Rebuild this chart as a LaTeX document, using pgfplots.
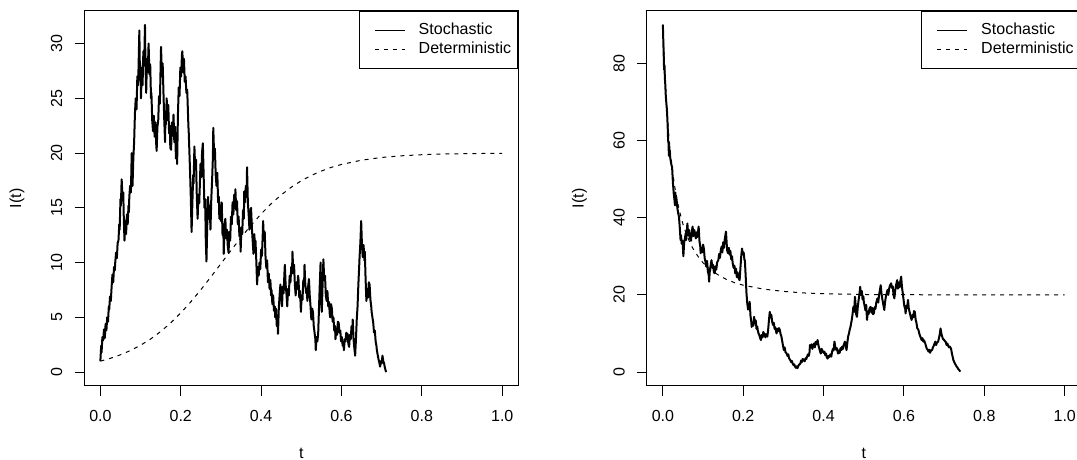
\documentclass[border=0pt]{standalone}
\usepackage{pgfplots}
\pgfplotsset{compat=1.18}
\usepackage{fontspec}
\setmainfont{Liberation Sans}
\newcommand{\rfont}{\fontsize{8}{9.6}\selectfont}
\pgfplotsset{
  rplot/.style={
    scale only axis,
    width=217pt, height=187.65pt,
    anchor=south west,
    axis line style={line width=0.5pt, black},
    tick align=outside,
    major tick length=4.8pt,
    tick style={line width=0.5pt, black},
    tick pos=left,
    /pgf/number format/assume math mode=true,
    tick label style={font=\rfont},
    label style={font=\rfont},
    xmin=-0.04, xmax=1.04,
    xtick={0,0.2,0.4,0.6,0.8,1},
    xticklabels={0.0,0.2,0.4,0.6,0.8,1.0},
    xticklabel style={anchor=north, inner sep=0pt, yshift=-7.2pt},
    yticklabel style={inner sep=0pt, xshift=-6pt, rotate=90, anchor=south},
    xlabel={t},
    ylabel={I(t)},
    xlabel style={at={(axis description cs:0.5,-0.1793)}, anchor=center, inner sep=0pt},
    ylabel style={at={(axis description cs:-0.155,0.5)}, anchor=center, inner sep=0pt},
    legend style={at={(1,1)}, anchor=north east, draw=black, line width=0.5pt, fill=white,
      inner xsep=3.3pt, inner ysep=5.9pt, font=\rfont, row sep=2.4pt,
      nodes={inner sep=0pt},
      /tikz/every odd column/.append style={column sep=6.85pt}},
    legend cell align=left,
    legend image code/.code={\path (0pt,0pt); \draw[##1, line width=0.5pt] (3.95pt,0pt) -- (18.75pt,0pt);},
  },
  stoch/.style={black, line width=1pt, line join=round},
  determ/.style={black, line width=0.5pt, dash pattern=on 2pt off 2.5pt},
}
\begin{document}
\begin{tikzpicture}
\useasboundingbox (0pt,0pt) rectangle (538.5pt,230pt);
\begin{axis}[rplot, at={(42.15pt,37pt)}, ymin=-1.27, ymax=33.0, ytick={0,5,10,15,20,25,30}]
\addplot[stoch] coordinates {
(0.000,1.0)(0.002,2.4)(0.003,1.8)(0.005,3.2)(0.007,2.9)(0.009,3.9)(0.011,3.1)(0.013,4.4)(0.015,3.8)(0.017,5.0)
(0.019,4.6)(0.021,6.0)(0.022,5.7)(0.024,6.9)(0.026,6.5)(0.028,7.8)(0.030,8.9)(0.032,8.2)(0.034,9.6)(0.036,9.3)
(0.037,10.0)(0.039,10.9)(0.041,10.4)(0.043,11.8)(0.045,12.0)(0.047,13.5)(0.048,13.0)(0.050,15.8)(0.051,15.2)(0.053,17.6)
(0.055,15.9)(0.057,16.4)(0.058,14.5)(0.059,13.2)(0.060,12.0)(0.062,13.8)(0.064,12.6)(0.066,14.4)(0.068,13.5)(0.070,15.2)
(0.071,14.6)(0.072,16.0)(0.074,17.0)(0.076,16.4)(0.078,20.0)(0.079,18.2)(0.080,17.0)(0.082,19.5)(0.084,21.0)(0.086,23.6)
(0.088,25.0)(0.090,24.0)(0.092,27.0)(0.094,26.2)(0.096,29.5)(0.097,31.2)(0.098,28.4)(0.100,27.8)(0.101,25.0)(0.103,27.5)
(0.105,26.2)(0.107,29.3)(0.109,28.0)(0.111,31.7)(0.112,28.5)(0.114,25.5)(0.116,28.6)(0.118,27.4)(0.120,30.0)(0.122,27.2)
(0.124,28.1)(0.126,25.0)(0.127,25.5)(0.129,23.0)(0.131,22.0)(0.133,23.4)(0.135,21.5)(0.137,22.8)(0.139,20.8)(0.140,20.2)
(0.142,22.4)(0.144,23.0)(0.146,25.2)(0.148,24.5)(0.150,28.0)(0.151,29.7)(0.153,27.0)(0.155,28.2)(0.157,25.5)(0.159,23.0)
(0.161,21.0)(0.162,23.8)(0.163,22.6)(0.165,25.0)(0.167,23.0)(0.169,24.4)(0.171,21.8)(0.173,22.5)(0.174,20.5)(0.176,20.3)
(0.178,22.8)(0.180,21.6)(0.182,23.5)(0.184,21.0)(0.186,22.4)(0.188,19.5)(0.190,20.8)(0.191,19.0)(0.193,23.5)(0.195,26.0)
(0.197,25.2)(0.199,27.8)(0.201,27.0)(0.203,29.0)(0.204,29.3)(0.206,27.4)(0.208,28.6)(0.210,26.5)(0.212,27.0)(0.214,25.5)
(0.216,25.8)(0.217,24.8)(0.219,22.5)(0.220,21.8)(0.222,19.6)(0.223,18.5)(0.225,16.0)(0.227,12.8)(0.229,15.5)(0.231,18.0)
(0.232,17.2)(0.234,20.6)(0.236,18.5)(0.238,19.4)(0.240,16.0)(0.242,14.0)(0.244,16.2)(0.246,15.4)(0.248,17.6)(0.249,19.0)
(0.251,17.8)(0.253,20.0)(0.255,20.9)(0.257,18.0)(0.259,15.0)(0.261,15.8)(0.262,12.5)(0.264,10.1)(0.266,13.5)(0.268,16.0)
(0.270,14.0)(0.272,15.2)(0.274,13.0)(0.276,15.8)(0.278,17.5)(0.280,19.6)(0.281,22.3)(0.283,19.8)(0.285,20.4)(0.287,18.0)
(0.289,17.0)(0.291,18.2)(0.293,15.5)(0.295,16.0)(0.296,14.0)(0.298,15.2)(0.300,13.8)(0.302,15.5)(0.304,12.5)(0.306,13.2)
(0.307,10.8)(0.309,13.5)(0.311,14.0)(0.313,12.2)(0.315,13.0)(0.317,11.5)(0.319,10.9)(0.321,12.8)(0.323,12.0)(0.325,14.2)
(0.327,13.5)(0.329,15.5)(0.331,14.4)(0.333,16.2)(0.335,15.0)(0.336,16.7)(0.338,14.8)(0.340,15.6)(0.342,13.5)(0.344,14.2)
(0.346,12.4)(0.348,13.0)(0.349,11.0)(0.351,13.2)(0.353,12.6)(0.355,14.8)(0.357,14.0)(0.358,16.5)(0.360,15.5)(0.362,17.0)
(0.364,16.2)(0.365,18.7)(0.367,15.5)(0.369,14.4)(0.371,13.0)(0.373,14.5)(0.375,15.0)(0.377,13.2)(0.379,12.0)(0.381,10.8)
(0.383,12.6)(0.385,11.4)(0.386,12.0)(0.388,10.2)(0.390,8.0)(0.392,9.6)(0.394,8.8)(0.396,10.0)(0.398,9.4)(0.400,11.2)
(0.402,10.6)(0.404,12.5)(0.405,13.8)(0.407,12.0)(0.409,12.8)(0.411,10.5)(0.413,9.5)(0.415,10.2)(0.417,8.2)(0.419,9.0)
(0.421,7.6)(0.423,8.4)(0.425,7.0)(0.426,7.5)(0.428,6.2)(0.430,7.0)(0.432,5.6)(0.434,6.0)(0.435,5.0)(0.437,5.8)
(0.439,4.2)(0.441,4.8)(0.442,3.5)(0.444,5.8)(0.446,7.0)(0.448,8.0)(0.450,6.8)(0.452,6.0)(0.454,7.8)(0.456,7.2)
(0.458,9.0)(0.459,9.8)(0.461,8.0)(0.463,7.2)(0.465,6.0)(0.467,7.6)(0.469,7.0)(0.471,8.8)(0.473,8.2)(0.475,9.6)
(0.477,9.0)(0.478,11.0)(0.480,9.2)(0.482,9.8)(0.484,8.0)(0.486,7.0)(0.488,8.2)(0.490,7.6)(0.492,8.8)(0.493,8.5)
(0.495,6.8)(0.497,7.4)(0.499,5.5)(0.501,7.0)(0.503,6.6)(0.505,8.4)(0.507,8.0)(0.508,9.8)(0.510,8.0)(0.512,7.2)
(0.514,7.6)(0.515,6.5)(0.517,7.8)(0.519,8.5)(0.521,7.0)(0.523,6.0)(0.525,4.8)(0.527,5.8)(0.529,5.5)(0.531,4.2)
(0.533,3.6)(0.535,3.0)(0.536,2.0)(0.538,3.2)(0.540,2.8)(0.542,3.5)(0.544,5.8)(0.546,8.0)(0.548,10.0)(0.549,7.2)
(0.551,5.5)(0.553,8.0)(0.555,10.3)(0.557,8.4)(0.559,8.8)(0.561,7.0)(0.563,6.5)(0.565,7.4)(0.567,6.0)(0.569,6.4)
(0.571,5.2)(0.572,5.0)(0.574,6.2)(0.576,5.8)(0.578,4.6)(0.580,5.0)(0.582,3.8)(0.584,4.2)(0.585,3.0)(0.587,3.8)
(0.589,3.4)(0.591,4.6)(0.593,4.5)(0.595,3.6)(0.597,3.8)(0.599,2.8)(0.601,3.2)(0.603,2.4)(0.605,2.6)(0.606,2.0)
(0.608,3.0)(0.610,2.8)(0.612,3.6)(0.614,3.2)(0.615,3.5)(0.617,2.6)(0.619,2.3)(0.621,3.4)(0.623,3.0)(0.625,4.2)
(0.627,3.6)(0.628,4.8)(0.630,3.0)(0.632,2.2)(0.634,1.5)(0.636,3.0)(0.638,4.8)(0.640,6.0)(0.642,8.0)(0.644,9.6)
(0.645,10.5)(0.647,11.8)(0.649,13.8)(0.651,11.5)(0.653,10.5)(0.655,11.6)(0.657,10.2)(0.658,11.0)(0.660,8.5)(0.662,6.5)
(0.664,7.6)(0.666,6.8)(0.668,8.2)(0.670,8.0)(0.672,6.6)(0.674,6.0)(0.675,5.5)(0.677,5.0)(0.679,4.5)(0.681,3.6)
(0.683,3.8)(0.685,2.8)(0.687,2.4)(0.688,2.0)(0.690,1.6)(0.692,1.2)(0.694,0.9)(0.696,0.5)(0.698,1.0)(0.700,0.8)
(0.702,1.5)(0.704,1.0)(0.706,0.8)(0.708,0.4)(0.711,0.0)
};
\addlegendentry{Stochastic}
\addplot[determ] coordinates {
(0,1.00)(0.025,1.26)(0.05,1.58)(0.075,1.97)(0.1,2.45)(0.125,3.02)(0.15,3.70)(0.175,4.49)(0.2,5.40)(0.225,6.41)
(0.25,7.52)(0.275,8.69)(0.3,9.90)(0.325,11.11)(0.35,12.29)(0.375,13.41)(0.4,14.44)(0.425,15.37)(0.45,16.18)(0.475,16.88)
(0.5,17.47)(0.525,17.96)(0.55,18.36)(0.575,18.70)(0.6,18.96)(0.65,19.35)(0.7,19.60)(0.75,19.75)(0.8,19.85)(0.85,19.91)
(0.9,19.94)(0.95,19.96)(1.0,19.98)
};
\addlegendentry{Deterministic}
\end{axis}
\begin{axis}[rplot, at={(323.4pt,37pt)}, ymin=-3.6, ymax=93.6, ytick={0,20,40,60,80}]
\addplot[stoch] coordinates {
(0.000,90.0)(0.001,86.0)(0.002,82.5)(0.003,78.3)(0.004,79.5)(0.005,76.0)(0.006,74.5)(0.007,72.0)(0.008,70.5)(0.009,69.2)
(0.010,68.0)(0.011,66.0)(0.012,63.5)(0.013,60.0)(0.014,59.3)(0.015,56.0)(0.016,58.5)(0.017,56.7)(0.019,55.0)(0.021,53.8)
(0.023,53.0)(0.025,49.0)(0.027,46.3)(0.029,44.5)(0.030,43.2)(0.031,46.5)(0.032,43.7)(0.034,44.8)(0.036,42.5)(0.038,41.2)
(0.040,40.3)(0.042,37.5)(0.044,34.2)(0.045,35.5)(0.047,33.2)(0.049,34.0)(0.051,30.0)(0.053,33.5)(0.055,34.8)(0.057,36.0)
(0.058,34.2)(0.060,37.0)(0.061,38.5)(0.063,35.4)(0.065,36.8)(0.067,34.5)(0.069,35.8)(0.070,34.0)(0.072,36.5)(0.074,37.7)
(0.076,35.2)(0.078,36.8)(0.080,36.0)(0.082,34.6)(0.084,36.2)(0.086,35.0)(0.088,36.8)(0.089,37.7)(0.091,34.0)(0.093,32.5)
(0.094,30.8)(0.096,32.2)(0.098,31.0)(0.100,33.0)(0.102,32.0)(0.104,29.5)(0.106,28.6)(0.108,27.3)(0.110,28.8)(0.112,26.0)
(0.114,25.2)(0.115,23.4)(0.117,26.5)(0.119,27.6)(0.121,29.0)(0.123,27.0)(0.125,27.8)(0.127,25.8)(0.129,25.6)(0.131,27.4)
(0.133,26.6)(0.135,28.4)(0.138,29.0)(0.140,30.6)(0.142,29.6)(0.144,31.4)(0.146,32.5)(0.148,31.0)(0.150,33.6)(0.152,32.2)
(0.154,34.4)(0.157,36.4)(0.159,33.0)(0.160,31.5)(0.162,30.8)(0.164,32.2)(0.166,30.4)(0.168,31.4)(0.170,29.2)(0.172,30.0)
(0.174,28.0)(0.176,27.0)(0.178,27.6)(0.180,25.6)(0.182,26.8)(0.184,24.6)(0.186,25.8)(0.188,24.4)(0.191,23.8)(0.193,27.0)
(0.195,30.0)(0.197,32.0)(0.199,30.6)(0.201,31.0)(0.203,29.0)(0.204,29.0)(0.206,25.0)(0.208,20.5)(0.210,17.8)(0.212,16.2)
(0.214,17.0)(0.216,18.2)(0.218,14.6)(0.220,13.0)(0.221,11.7)(0.223,12.8)(0.225,12.0)(0.227,14.3)(0.229,12.6)(0.231,13.4)
(0.233,11.2)(0.235,11.8)(0.236,10.9)(0.238,10.0)(0.240,9.6)(0.242,8.8)(0.244,8.3)(0.246,9.6)(0.248,9.0)(0.250,10.4)
(0.252,9.4)(0.253,10.0)(0.255,9.0)(0.257,9.8)(0.259,9.4)(0.260,9.2)(0.262,11.0)(0.264,13.5)(0.266,15.6)(0.268,14.2)
(0.270,14.8)(0.272,13.0)(0.274,12.2)(0.276,12.8)(0.278,11.2)(0.280,11.6)(0.282,10.4)(0.283,10.0)(0.285,11.2)(0.287,10.6)
(0.289,11.4)(0.291,10.9)(0.293,9.8)(0.295,9.2)(0.297,8.0)(0.299,6.8)(0.301,5.7)(0.303,6.4)(0.305,5.2)(0.308,4.8)
(0.310,4.2)(0.312,4.6)(0.314,3.6)(0.317,3.1)(0.319,2.6)(0.321,2.9)(0.323,2.2)(0.325,1.8)(0.327,2.0)(0.329,1.4)
(0.331,1.1)(0.333,1.5)(0.335,1.0)(0.337,1.6)(0.339,1.9)(0.342,2.2)(0.344,3.0)(0.346,2.6)(0.348,3.4)(0.351,3.1)
(0.353,2.8)(0.355,3.6)(0.357,3.4)(0.359,4.0)(0.361,4.6)(0.363,4.2)(0.365,5.2)(0.366,7.0)(0.368,6.6)(0.370,7.2)
(0.372,6.0)(0.374,6.8)(0.376,7.4)(0.378,6.4)(0.380,7.8)(0.382,7.2)(0.385,8.3)(0.387,7.0)(0.389,6.2)(0.391,5.4)
(0.393,4.8)(0.395,6.0)(0.397,5.6)(0.400,5.0)(0.402,5.3)(0.404,4.4)(0.406,4.8)(0.408,3.8)(0.410,3.5)(0.412,4.2)
(0.414,3.9)(0.417,4.6)(0.419,4.0)(0.421,5.2)(0.423,6.0)(0.425,5.6)(0.427,7.9)(0.429,6.6)(0.431,5.8)(0.433,6.2)
(0.436,4.8)(0.438,5.6)(0.440,5.0)(0.442,6.2)(0.444,5.7)(0.446,6.6)(0.448,6.0)(0.450,7.0)(0.453,7.9)(0.455,6.8)
(0.457,5.7)(0.459,7.6)(0.461,9.2)(0.463,10.0)(0.465,11.0)(0.467,11.8)(0.470,13.5)(0.472,15.0)(0.474,16.9)(0.476,15.6)
(0.478,19.5)(0.480,17.0)(0.481,15.0)(0.483,14.3)(0.485,16.8)(0.487,18.6)(0.489,20.0)(0.491,22.1)(0.493,20.0)(0.495,21.0)
(0.497,18.8)(0.499,19.6)(0.500,18.2)(0.502,17.2)(0.504,16.0)(0.506,17.4)(0.508,13.5)(0.510,15.6)(0.512,15.0)(0.514,16.4)
(0.517,16.9)(0.519,15.4)(0.521,16.6)(0.523,15.0)(0.525,15.2)(0.527,16.8)(0.529,16.4)(0.531,18.0)(0.534,19.1)(0.536,18.0)
(0.538,20.0)(0.540,21.2)(0.542,22.5)(0.544,20.4)(0.546,19.0)(0.548,17.8)(0.551,16.1)(0.553,18.2)(0.555,19.6)(0.557,20.4)
(0.559,21.3)(0.561,20.0)(0.563,21.6)(0.565,22.4)(0.568,23.0)(0.570,21.8)(0.572,22.2)(0.574,20.0)(0.576,19.1)(0.578,21.0)
(0.580,22.4)(0.583,23.8)(0.585,21.6)(0.587,23.2)(0.589,22.0)(0.591,23.6)(0.593,24.7)(0.595,22.0)(0.597,20.4)(0.599,18.7)
(0.601,17.0)(0.603,16.4)(0.604,15.2)(0.606,17.2)(0.608,16.6)(0.610,18.7)(0.612,16.4)(0.614,15.6)(0.617,14.2)(0.619,13.5)
(0.621,14.8)(0.623,14.2)(0.625,15.8)(0.627,15.6)(0.629,13.6)(0.631,12.8)(0.633,11.4)(0.636,10.9)(0.638,10.0)(0.640,9.4)
(0.642,8.8)(0.644,8.3)(0.646,8.8)(0.648,7.9)(0.650,8.2)(0.653,7.4)(0.655,6.6)(0.657,6.0)(0.659,5.8)(0.661,5.3)
(0.663,5.8)(0.665,5.0)(0.667,5.6)(0.670,5.7)(0.672,6.4)(0.674,6.8)(0.676,7.4)(0.678,7.9)(0.680,7.0)(0.682,7.6)
(0.685,7.9)(0.687,8.8)(0.689,9.8)(0.691,11.3)(0.693,10.0)(0.695,9.2)(0.697,8.6)(0.700,8.3)(0.702,8.0)(0.704,7.8)
(0.706,7.0)(0.708,7.4)(0.710,6.8)(0.712,6.4)(0.714,6.6)(0.717,6.1)(0.719,5.0)(0.721,4.0)(0.723,3.1)(0.725,2.6)
(0.727,2.2)(0.729,1.8)(0.731,1.4)(0.733,1.2)(0.735,0.8)(0.737,0.6)(0.740,0.1)
};
\addlegendentry{Stochastic}
\addplot[determ] coordinates {
(0,90.0)(0.005,77.2)(0.01,67.9)(0.015,61.0)(0.02,55.6)(0.025,51.2)(0.03,47.7)(0.04,42.2)(0.05,38.3)(0.06,35.3)
(0.07,32.9)(0.08,31.1)(0.09,29.6)(0.1,28.3)(0.12,26.4)(0.14,25.0)(0.16,23.9)(0.18,23.1)(0.2,22.5)(0.25,21.5)
(0.3,20.9)(0.35,20.5)(0.4,20.3)(0.45,20.2)(0.5,20.1)(0.6,20.04)(0.7,20.02)(0.8,20.01)(1.0,20.0)
};
\addlegendentry{Deterministic}
\end{axis}
\end{tikzpicture}
\end{document}
